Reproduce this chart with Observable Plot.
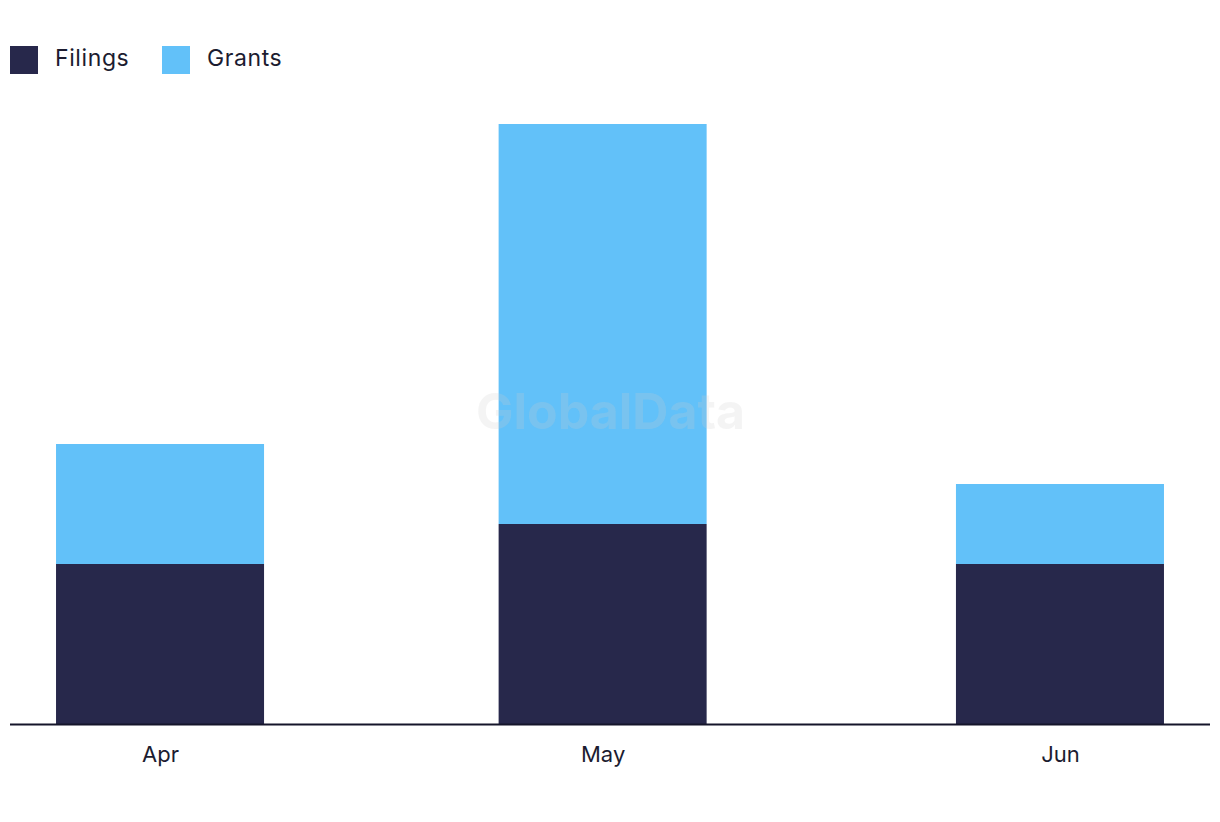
<!DOCTYPE html>
<html>
<head>
<meta charset="utf-8">
<script src="https://cdn.jsdelivr.net/npm/d3@7"></script>
<script src="https://cdn.jsdelivr.net/npm/@observablehq/plot@0.6"></script>
<style>
  body { margin: 0; background: #fff; font-family: Inter, "Noto Sans", sans-serif; color: #1c1c30; }
  #legend { position: relative; height: 100px; }
  .item { position: absolute; top: 46px; display: flex; align-items: center; height: 28px; font-size: 23px; letter-spacing: 0.6px; }
  .item .lbl { position: relative; top: -2px; }
  .sw { width: 28px; height: 28px; margin-right: 17px; }
  #chart { position: relative; }
  svg { display: block; }
</style>
</head>
<body>
<div id="legend"></div>
<div id="chart"></div>
<script>
const months = ["Apr", "May", "Jun"];
const monthStarts = ["2023-04-01", "2023-05-01", "2023-06-01"];
const filings = [4, 5, 4];
const grants = [3, 10, 2];
const seriesNames = ["Filings", "Grants"];
const seriesColors = ["#27284b", "#62c1f9"];

const DAY = 864e5;
const dates = monthStarts.map(s => new Date(s + "T00:00:00Z"));
const rows = [];
dates.forEach((d, i) => {
  rows.push({date: d, month: months[i], series: "Filings", value: filings[i]});
  rows.push({date: d, month: months[i], series: "Grants", value: grants[i]});
});

const halfBar = 7.05 * DAY;
const pad = 10.17 * DAY;

// legend
const legend = document.getElementById("legend");
const legendX = [10, 162];
seriesNames.forEach((name, i) => {
  const el = document.createElement("div");
  el.className = "item";
  el.style.left = legendX[i] + "px";
  el.innerHTML = `<span class="sw" style="background:${seriesColors[i]}"></span><span class="lbl">${name}</span>`;
  legend.appendChild(el);
});

const plot = Plot.plot({
  width: 1220,
  height: 722,
  marginLeft: 10,
  marginRight: 10,
  marginTop: 24,
  marginBottom: 98,
  style: {fontFamily: "Inter, 'Noto Sans', sans-serif", background: "#fff"},
  x: {type: "utc", domain: [new Date(+dates[0] - pad), new Date(+dates[2] + pad)]},
  y: {domain: [0, 15], axis: null},
  color: {domain: seriesNames, range: seriesColors},
  marks: [
    Plot.rectY(rows, {
      x1: d => new Date(+d.date - halfBar),
      x2: d => new Date(+d.date + halfBar),
      y: "value",
      fill: "series",
      order: seriesNames
    }),
    Plot.text(["GlobalData"], {
      frameAnchor: "middle",
      dx: 0, dy: -12,
      fontSize: 50, fontWeight: "bold",
      fill: "#cccccc", fillOpacity: 0.22
    }),
    Plot.ruleY([0], {stroke: "#15152a", strokeWidth: 2}),
    Plot.axisX({
      ticks: dates,
      tickFormat: d => months[dates.findIndex(x => +x === +d)],
      tickSize: 0,
      tickPadding: 22,
      fontSize: 22,
      fill: "#1c1c30",
      label: null
    })
  ]
});
document.getElementById("chart").appendChild(plot);
</script>
</body>
</html>
